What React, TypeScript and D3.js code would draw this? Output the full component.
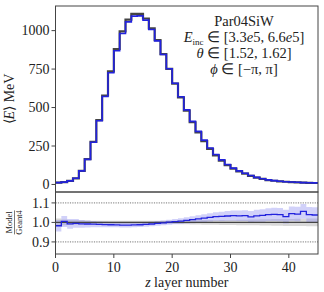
import React from 'react';
import * as d3 from 'd3';

// mean energy per layer (MeV), 45 layers
const layers = d3.range(45);
const modelE = [
  12, 15, 23, 40, 88, 163, 274, 414, 572, 726, 869, 981, 1057, 1094, 1096, 1068, 1007, 933, 845, 752,
  658, 570, 485, 410, 345, 288, 237, 195, 160, 130, 106, 88, 73, 58, 46, 37, 30, 25, 21, 18,
  16, 14, 12, 11, 10,
];
const geant4E = [
  12.2, 14.9, 23.2, 40.2, 88.6, 164.3, 276.5, 418.2, 578.4, 734.8, 880.4, 994.9, 1071.9, 1108.4, 1109.3,
  1078.8, 1015.1, 937.7, 846.7, 751.2, 655.4, 566.0, 480.2, 404.3, 338.9, 281.8, 231.0, 189.3, 155.2,
  125.8, 102.4, 85.1, 70.5, 56.4, 44.5, 35.7, 28.8, 24.0, 20.2, 17.5, 15.3, 13.4, 11.4, 10.6, 9.6,
];
// Model / Geant4 ratio and uncertainties
const ratio = [
  0.983, 1.005, 0.993, 0.995, 0.993, 0.992, 0.991, 0.99, 0.989, 0.988, 0.987, 0.986, 0.986, 0.987, 0.988,
  0.99, 0.992, 0.995, 0.998, 1.001, 1.004, 1.007, 1.01, 1.014, 1.018, 1.022, 1.026, 1.03, 1.031, 1.033,
  1.035, 1.034, 1.035, 1.028, 1.034, 1.036, 1.04, 1.041, 1.04, 1.03, 1.045, 1.043, 1.057, 1.04, 1.038,
];
const ratioErr = [
  0.03, 0.028, 0.025, 0.022, 0.02, 0.018, 0.016, 0.015, 0.014, 0.013, 0.012, 0.012, 0.012, 0.012, 0.012,
  0.012, 0.012, 0.012, 0.012, 0.013, 0.014, 0.015, 0.016, 0.018, 0.019, 0.02, 0.021, 0.022, 0.024, 0.025,
  0.026, 0.027, 0.028, 0.03, 0.031, 0.032, 0.033, 0.034, 0.034, 0.035, 0.036, 0.037, 0.038, 0.039, 0.04,
];
const geant4Err = [
  0.02, 0.015, 0.013, 0.012, 0.011, 0.01, 0.008, 0.008, 0.008, 0.008, 0.008, 0.008, 0.008, 0.008, 0.008,
  0.008, 0.008, 0.008, 0.008, 0.008, 0.008, 0.01, 0.01, 0.011, 0.011, 0.012, 0.012, 0.012, 0.013, 0.013,
  0.013, 0.014, 0.014, 0.015, 0.015, 0.016, 0.016, 0.017, 0.017, 0.018, 0.018, 0.019, 0.019, 0.02, 0.02,
];

const xTicks = [0, 10, 20, 30, 40];
const yTicks = [0, 250, 500, 750, 1000];
const rTicks = [0.9, 1.0, 1.1];
const infoLines = ['Par04SiW', 'inc', '[1.52, 1.62]', '[−π, π]'];

const W = 324;
const H = 292;
const left = 55.5;
const right = 318;
const top = 6;
const mid = 192;
const bottom = 254;
const font = '"Liberation Serif", "Times New Roman", serif';
const axisColor = '#444';
const infoX = 244;

export default function App() {
  const x = d3.scaleLinear().domain([0, 45]).range([left, right]);
  const y = d3.scaleLinear().domain([-49, 1160]).range([mid, top]);
  const yr = d3.scaleLinear().domain([0.838, 1.156]).range([bottom, mid]);

  // step series: repeat the last bin so the step closes at the right edge
  const stepPts = (vals: number[]) => [...layers.map((i) => [i, vals[i]]), [45, vals[vals.length - 1]]];

  const line = d3
    .line<number[]>()
    .x((d) => x(d[0]))
    .y((d) => y(d[1]))
    .curve(d3.curveStepAfter);

  const rline = d3
    .line<number[]>()
    .x((d) => x(d[0]))
    .y((d) => yr(d[1]))
    .curve(d3.curveStepAfter);

  const band = (vals: number[], errs: number[]) => {
    const pts = [...layers.map((i) => [i, vals[i], errs[i]]), [45, vals[44], errs[44]]];
    return d3
      .area<number[]>()
      .x((d) => x(d[0]))
      .y0((d) => yr(d[1] - d[2]))
      .y1((d) => yr(d[1] + d[2]))
      .curve(d3.curveStepAfter)(pts);
  };

  const ones = layers.map(() => 1);

  return (
    <svg width={W} height={H} style={{ position: 'absolute', left: 0, top: 0 }} fontFamily={font}>
      <rect width={W} height={H} fill="#fff" />

      {/* top panel */}
      <path d={line(stepPts(geant4E)) || ''} fill="none" stroke="#444" strokeWidth={2.2} />
      <path d={line(stepPts(modelE)) || ''} fill="none" stroke="#2222dd" strokeWidth={1.6} />

      {yTicks.map((t) => (
        <g key={t}>
          <line x1={left - 4} x2={left} y1={y(t)} y2={y(t)} stroke={axisColor} />
          <text x={left - 6} y={y(t)} dy="0.34em" textAnchor="end" fontSize={14} fill="#222">
            {t}
          </text>
        </g>
      ))}

      <text transform={`translate(14,${(top + mid) / 2}) rotate(-90)`} textAnchor="middle" fontSize={14} fill="#222">
        ⟨<tspan fontStyle="italic">E</tspan>⟩ MeV
      </text>

      <g fontSize={14.5} fill="#222" textAnchor="middle">
        <text x={infoX} y={26}>{infoLines[0]}</text>
        <text x={infoX} y={42}>
          <tspan fontStyle="italic">E</tspan>
          <tspan fontSize={9} dy={2.5}>{infoLines[1]}</tspan>
          <tspan dy={-2.5}> ∈ [3.3<tspan fontStyle="italic">e</tspan>5, 6.6<tspan fontStyle="italic">e</tspan>5]</tspan>
        </text>
        <text x={infoX} y={58}>
          <tspan fontStyle="italic">θ</tspan> ∈ {infoLines[2]}
        </text>
        <text x={infoX} y={74}>
          <tspan fontStyle="italic">ϕ</tspan> ∈ {infoLines[3]}
        </text>
      </g>

      {/* ratio panel */}
      <path d={band(ones, geant4Err) || ''} fill="#b8b8b8" fillOpacity={0.55} />
      <path d={band(ratio, ratioErr) || ''} fill="#8c8cf0" fillOpacity={0.4} />
      {[0.9, 1.1].map((t) => (
        <line key={t} x1={left} x2={right} y1={yr(t)} y2={yr(t)} stroke="#777" strokeDasharray="1.2,1.2" />
      ))}
      <line x1={left} x2={right} y1={yr(1)} y2={yr(1)} stroke="#444" strokeWidth={1.4} />
      <path d={rline(stepPts(ratio)) || ''} fill="none" stroke="#2222dd" strokeWidth={1.3} />

      {rTicks.map((t) => (
        <g key={t}>
          <line x1={left - 4} x2={left} y1={yr(t)} y2={yr(t)} stroke={axisColor} />
          <text x={left - 6} y={yr(t)} dy="0.34em" textAnchor="end" fontSize={14} fill="#222">
            {t.toFixed(1)}
          </text>
        </g>
      ))}

      <g transform={`translate(14,${yr(1)}) rotate(-90)`} fontSize={8.5} fill="#222" textAnchor="middle">
        <text y={-2}>Model</text>
        <line x1={-12} x2={12} y1={0.5} y2={0.5} stroke="#222" strokeWidth={0.6} />
        <text y={8}>Geant4</text>
      </g>

      {xTicks.map((t) => (
        <g key={t}>
          <line x1={x(t)} x2={x(t)} y1={bottom} y2={bottom + 4} stroke={axisColor} />
          <text x={x(t)} y={bottom + 18} textAnchor="middle" fontSize={14} fill="#222">
            {t}
          </text>
        </g>
      ))}
      <text x={(left + right) / 2} y={287} textAnchor="middle" fontSize={14} fill="#222">
        <tspan fontStyle="italic">z</tspan> layer number
      </text>

      {/* frames */}
      <rect x={left} y={top} width={right - left} height={mid - top} fill="none" stroke={axisColor} />
      <rect x={left} y={mid} width={right - left} height={bottom - mid} fill="none" stroke={axisColor} />
    </svg>
  );
}
